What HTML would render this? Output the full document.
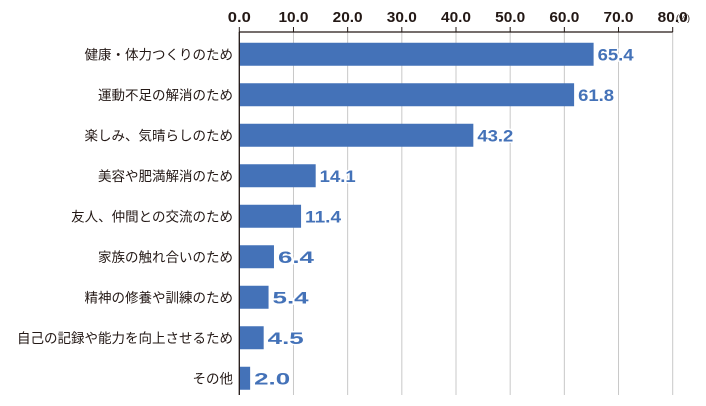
<!DOCTYPE html>
<html><head><meta charset="utf-8"><style>
body{margin:0;background:#fff;}
svg{display:block;font-family:"Liberation Sans","Noto Sans CJK JP",sans-serif;}
</style></head><body>
<svg width="706" height="406" viewBox="0 0 706 406" id="chart">
<g id="grid"></g><g id="bars"></g><g id="labels"></g><g id="axis"></g>
</svg>
<script>
const categories=["健康・体力つくりのため","運動不足の解消のため","楽しみ、気晴らしのため","美容や肥満解消のため","友人、仲間との交流のため","家族の触れ合いのため","精神の修養や訓練のため","自己の記録や能力を向上させるため","その他"];
const values=[65.4,61.8,43.2,14.1,11.4,6.4,5.4,4.5,2.0];
const ticks=[0,10,20,30,40,50,60,70,80];
const tickLabels=["0.0","10.0","20.0","30.0","40.0","50.0","60.0","70.0","80.0"];
const NS="http://www.w3.org/2000/svg";
const x0=239.3,x1=672.7,xmax=80;
const xs=v=>x0+(x1-x0)*v/xmax;
const rowTop=35,rowH=40.5,barH=23;
const yc=i=>rowTop+rowH*i+rowH/2-1;
function mk(t,a,p){const e=document.createElementNS(NS,t);for(const k in a)e.setAttribute(k,a[k]);p.appendChild(e);return e;}
const g=document.getElementById('grid'),b=document.getElementById('bars'),l=document.getElementById('labels'),ax=document.getElementById('axis');
ticks.forEach((t,i)=>{
 const gl=mk('line',{x1:xs(t),x2:xs(t),y1:32,y2:395,stroke:'#c8c8c8','stroke-width':1},g);
 
 
 const tk=mk('line',{x1:xs(t),x2:xs(t),y1:27,y2:32,stroke:'#231815','stroke-width':1},ax);
 
 
 const w=tickLabels[i].length>3?30:23;
 const tl=mk('text',{x:xs(t),y:22,'text-anchor':'middle','font-size':15,'font-weight':'bold',fill:'#231815',textLength:w,lengthAdjust:'spacingAndGlyphs'},ax);
 tl.textContent=tickLabels[i];
 
 
});
const u=mk('text',{x:676,y:21,'font-size':9,fill:'#231815'},ax);u.textContent='(%)';


const axl=mk('line',{x1:x0,x2:x1,y1:32,y2:32,stroke:'#231815','stroke-width':1.3},ax);


const ayl=mk('line',{x1:x0,x2:x0,y1:32,y2:395,stroke:'#231815','stroke-width':1.3},ax);


categories.forEach((c,i)=>{
 const y=yc(i);
 const r=mk('rect',{x:x0,y:y-barH/2,width:xs(values[i])-x0,height:barH,fill:'#4472b8'},b);
 
 
 const cl=mk('text',{x:233,y:y+5,'text-anchor':'end','font-size':13.5,fill:'#231815'},l);
 cl.textContent=c;
 
 
 const vl=mk('text',{x:xs(values[i])+4,y:y+6,'font-size':17,'font-weight':'bold',fill:'#4472b8',stroke:'#fff','stroke-width':3,'paint-order':'stroke','stroke-linejoin':'round',textLength:36,lengthAdjust:'spacingAndGlyphs'},l);
 vl.textContent=values[i].toFixed(1);
 
 
});
</script>
</body></html>
